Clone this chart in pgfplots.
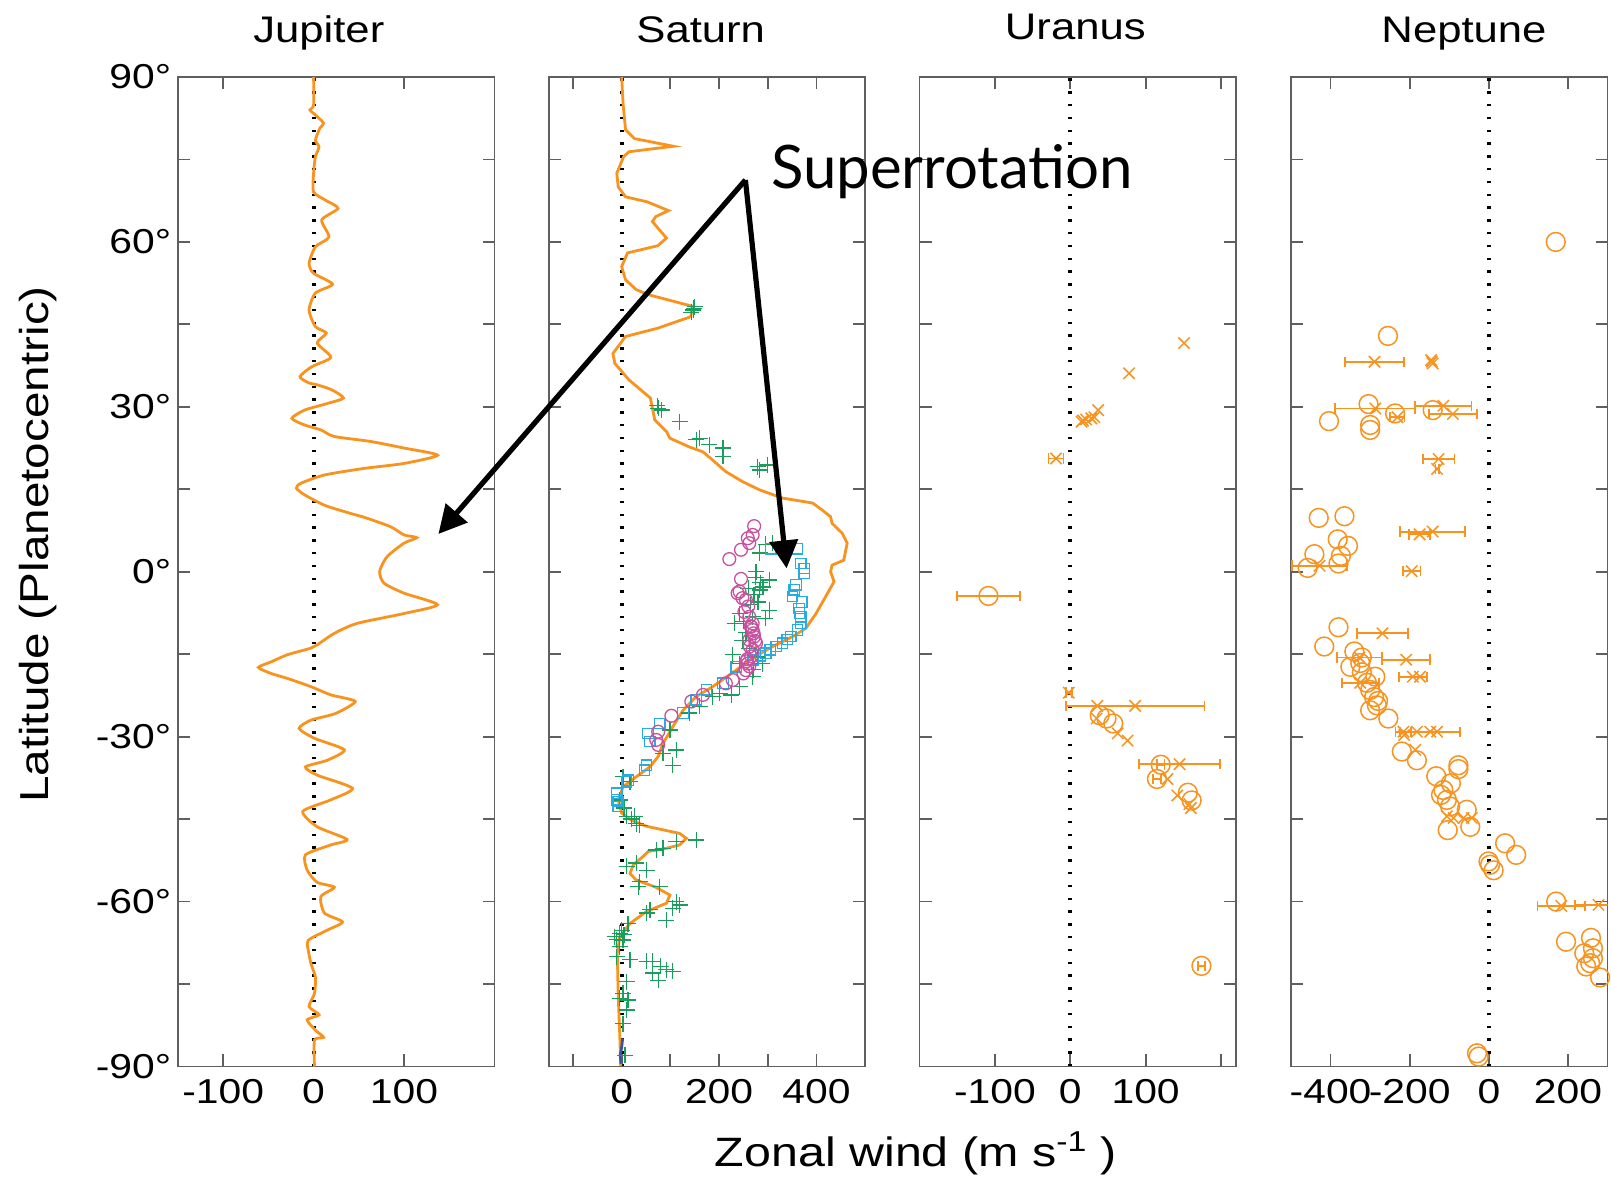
\documentclass[border=0pt]{standalone}
\usepackage{fontspec}
\setmainfont{Liberation Sans}[FakeStretch=1.18]
\newfontfamily\annfont{Lato}
\usepackage{pgfplots}
\pgfplotsset{compat=1.18}
\usetikzlibrary{arrows.meta}
\definecolor{jorange}{RGB}{247,147,30}
\definecolor{sgreen}{RGB}{26,158,92}
\definecolor{scyan}{RGB}{41,171,226}
\definecolor{smag}{RGB}{200,80,158}
\definecolor{sblue}{RGB}{57,83,164}
\definecolor{axgray}{RGB}{95,95,95}
\pgfplotsset{
  planet/.style={
    scale only axis, width=158.3pt, height=494.75pt,
    ymin=-90, ymax=90, ytick={-90,-75,...,90}, yticklabels={},
    tick align=inside, major tick length=6pt,
    axis line style={axgray, line width=0.9pt},
    tick style={axgray, line width=0.9pt},
    tick label style={black, font=\fontsize{17.3}{20}\selectfont},
    xticklabel style={inner sep=0pt, yshift=-6pt},
    anchor=north west, clip=true,
  },
  zeroline/.style={black, line width=2pt, dash pattern=on 1.2pt off 5.2pt, forget plot},
  profile/.style={jorange, line width=1.4pt, no markers},
  urx/.style={only marks, mark=x, mark size=4pt, jorange, mark options={line width=0.75pt}},
  uro/.style={only marks, mark=o, mark size=4.7pt, jorange, mark options={line width=0.75pt}},
  errx/.style={error bars/.cd, x dir=both, x explicit,
     error bar style={jorange, line width=0.9pt},
     error mark options={jorange, line width=0.9pt, mark size=2.6pt, rotate=90}},
}
\begin{document}
\begin{tikzpicture}
\useasboundingbox (0,0) rectangle (805.5pt,590pt);

% ---------------- Jupiter ----------------
\begin{axis}[planet, at={(88.95pt,551.5pt)}, xmin=-150, xmax=200,
  xtick={-100,0,100}, xticklabels={-100,0,100},
  yticklabels={-90°,,-60°,,-30°,,0°,,30°,,60°,,90°},
  yticklabel style={inner sep=0pt, xshift=-3.2pt}]
\addplot[zeroline] coordinates {(0,-90) (0,90)};
\addplot[profile, smooth, tension=0.4] coordinates {
(0,90)(0,84.9)(-4,84)(2,83.1)(11,81.6)(7,80.7)(2,78.5)(6,77.3)(2,75.5)(0,72.5)(0,69.1)
(13,67.6)(27,66.1)(9,64.0)(17,60.9)(2,59.1)(-5,56.1)(0,54.3)(21,52.3)(2,50.7)(-5,47.6)
(2,44.6)(14,43.4)(4,41.6)(19,39.0)(-2,37.3)(-15,35.5)(-6,34.4)(4,34.0)(20,33.1)(33,31.6)
(15,30.6)(-10,29.4)(-24,27.9)(-10,26.7)(8,25.8)(23,24.6)(63,23.7)(100,22.5)(137,21.2)
(100,19.7)(56,18.8)(12,17.6)(-14,16.1)(-19,15.2)(-10,14.0)(12,12.1)(41,10.6)(56,9.9)
(85,8.2)(100,6.7)(114,6.2)(100,5.2)(81,2.7)(73,0.0)(78,-2.1)(100,-3.9)(137,-6.0)
(100,-7.6)(48,-9.4)(23,-11.2)(4,-13.3)(-3,-13.9)(-29,-15.1)(-47,-16.4)(-61,-17.4)
(-47,-18.5)(-29,-19.4)(-3,-20.9)(19,-22.4)(46,-23.6)(24,-25.8)(-3,-27.0)(-16,-28.5)
(1,-30.3)(34,-32.4)(15,-34.3)(-9,-35.5)(4,-37.0)(43,-39.4)(19,-41.5)(-12,-43.6)
(4,-46.4)(37,-48.7)(19,-49.7)(-9,-51.5)(-7,-54.3)(4,-56.5)(23,-57.4)(8,-59.1)
(12,-62.1)(32,-63.7)(15,-65.2)(-3,-66.7)(-7,-67.6)(-3,-71.2)(2,-73.7)(1,-76.7)
(-5,-79.1)(6,-80.6)(-7,-81.5)(2,-83.4)(11,-84.7)(1,-85.2)(1,-90)};
\end{axis}

% ---------------- Saturn ----------------
\begin{axis}[planet, at={(274.3pt,551.5pt)}, xmin=-150, xmax=500,
  xtick={-100,0,100,200,300,400}, xticklabels={,0,,200,,400}]
\addplot[zeroline] coordinates {(0,-90) (0,90)};
\addplot[profile] coordinates {
(0,90)(3,85)(8,80.4)(26,78.8)(106,77.4)(15,76.4)(4,75.5)(-10,72.5)(-7,70)(8,68.2)
(52,67.3)(96,65.7)(70,64.6)(63,63.7)(92,60.7)(74,59.3)(12,58)(0,55.5)(8,53.1)
(30,51.3)(59,50.3)(145,48.3)(142,46.4)(74,44.3)(8,42.8)(-18,39.7)(-14,37.9)(15,34.9)
(59,31.6)(68,27.6)(92,25.5)(99,24.3)(139,22.7)(167,21.8)(187,20.3)(214,18.2)
(248,16.4)(283,14.9)(330,13.4)(392,12.5)(412,11.2)(429,10.0)(432,8.8)(453,7.0)
(463,5.2)(456,2.1)(432,1.2)(429,0.0)(436,-1.8)(419,-4.5)(399,-7.6)(378,-10.3)
(351,-11.8)(310,-13.6)(269,-15.7)(235,-17.9)(187,-20.9)(153,-22.7)(126,-25.2)
(105,-28.2)(85,-31.2)(75,-33.6)(58,-35.5)(30,-37.3)(3,-39.1)(-7,-41.5)(0,-43.9)
(20,-45.2)(51,-46.3)(119,-47.6)(133,-48.5)(119,-49.7)(92,-50.3)(54,-50.9)(44,-51.8)
(24,-53.3)(17,-54.9)(30,-56.1)(68,-57.3)(99,-58.8)(92,-60.3)(51,-61.8)(17,-64.0)
(-4,-66.4)(-9,-69.4)(-7,-77.3)(-4,-84.0)(-2,-89.9)};
\addplot[only marks, mark=+, mark size=4pt, sgreen, mark options={line width=0.65pt}] coordinates {
(147,47.6)(150,48.2)(143,47.2)(148,47.9)
(73,30.2)(75,29.7)(82,29.4)(119,27.3)(160,24.3)(153,24.0)(180,23.1)(208,22.5)(208,21.0)
(279,19.1)(283,18.5)(300,19.4)
(310,5.2)(296,5.0)(283,3.4)(276,0.0)(303,-1.5)(283,-3.3)(272,-4.2)(290,-2.8)(303,-7.0)
(242,-7.6)(232,-9.4)(269,-8.2)(280,-5.5)(265,-6.0)(255,-11.0)(248,-12.5)(275,-1.0)(285,-2.0)
(260,-3.0)(295,-8.5)(250,-9.0)(262,-14.0)(270,-17.8)(280,-15.5)
(228,-15.1)(242,-16.7)(289,-16.7)(269,-19.1)(242,-20.9)(225,-22.4)(201,-22.1)(187,-22.7)
(160,-24.5)(139,-25.7)(99,-28.8)(85,-33.0)(112,-32.4)(105,-35.2)(3,-37.3)(17,-38.2)
(-4,-41.5)(27,-44.5)(10,-44.5)(30,-45.8)(37,-46.1)(20,-45.0)(5,-43.0)
(153,-48.8)(112,-49.1)(85,-50.3)(71,-50.6)(30,-53.0)(10,-53.6)(51,-54.3)(37,-56.4)
(34,-57.3)(78,-57.3)(112,-60.0)(119,-60.6)(105,-61.2)(58,-61.5)(51,-62.1)(92,-63.4)
(13,-64.0)(-4,-65.8)(-14,-66.4)(3,-67.0)(-4,-68.2)(-10,-66.9)(0,-65.2)(5,-66.0)
(17,-70.6)(-10,-70.0)(64,-70.9)(51,-70.9)(92,-72.4)(64,-73.0)(75,-74.3)(105,-72.7)(80,-71.8)
(10,-74.6)(3,-76.7)(-4,-77.6)(13,-77.9)(10,-79.7)(3,-82.2)(7,-88.0)};
\addplot[only marks, mark=square, mark size=2.6pt, scyan, mark options={line width=0.65pt}] coordinates {
(306,4.2)(361,4.2)(368,1.5)(375,0.6)(375,-0.3)(358,-2.4)(354,-3.3)(351,-4.5)(364,-6.7)
(368,-8.2)(368,-9.4)(361,-10.6)(347,-11.8)(330,-13.0)(317,-13.6)(296,-14.8)(270,-16.0)
(235,-17.3)(208,-20.3)(174,-21.5)(153,-23.3)(126,-25.7)(78,-27.6)(54,-29.4)(58,-30.9)
(51,-35.2)(47,-36.1)(13,-37.9)(-10,-40.3)(-10,-41.5)(-7,-42.7)(-7,-41.8)(10,-38.2)
(370,-5.5)(365,-7.5)(340,-12.3)(305,-14.2)(285,-15.3)};
\addplot[only marks, mark=o, mark size=3.2pt, smag, mark options={line width=0.65pt}] coordinates {
(272,8.3)(269,6.7)(259,6.1)(262,5.2)(245,4.0)(221,2.3)(245,-1.3)(242,-3.6)(238,-3.9)
(248,-4.8)(255,-5.1)(252,-7.3)(262,-8.2)(269,-9.4)(269,-10.6)(272,-11.8)(276,-13.0)
(269,-14.2)(266,-15.4)(259,-16.7)(255,-17.9)(262,-12.4)(265,-9.9)(258,-15.9)
(260,-6.3)(266,-10.0)(271,-11.2)(274,-12.6)(263,-13.6)(256,-16.3)(262,-17.2)(250,-18.5)
(228,-19.7)(214,-20.3)(167,-22.4)(143,-23.6)(102,-26.2)(75,-29.1)(71,-30.6)(75,-31.5)};
\addplot[sblue, line width=1.4pt, no markers] coordinates {(2,-84.9)(0,-86.5)(-3,-88)(-1,-89.5)};
\end{axis}

% ---------------- Uranus ----------------
\begin{axis}[planet, at={(459.75pt,551.5pt)}, xmin=-200, xmax=220,
  xtick={-100,0,100,200}, xticklabels={-100,0,100,}]
\addplot[zeroline] coordinates {(0,-90) (0,90)};
\addplot[urx] coordinates {
(151,41.6)(78,36.1)(37,29.4)(17,27.5)(21,27.7)(28,27.9)(32,28.1)(15,27.3)
(36,-24.4)(35,-26.7)(63,-29.4)(76,-30.7)(129,-37.7)(142,-40.7)(160,-43.0)(158,-42.3)};
\addplot[urx, errx] coordinates {
(-19,20.6) +- (10,0) (-2,-22.0) +- (4,0) (86,-24.4) +- (92,0) (145,-35.0) +- (54,0)};
\addplot[uro] coordinates {(39,-26.1)(48,-26.7)(57,-27.6)(156,-40.2)(161,-41.6)};
\addplot[uro, errx] coordinates {
(-108.6,-4.4) +- (42,0) (120,-35.1) +- (5,0) (115,-37.7) +- (5,0) (174,-71.7) +- (5,0)};
\end{axis}

% ---------------- Neptune ----------------
\begin{axis}[planet, at={(645.5pt,551.5pt)}, xmin=-500, xmax=300,
  xtick={-400,-200,0,200}, xticklabels={-400,-200,0,200}]
\addplot[zeroline] coordinates {(0,-90) (0,90)};
\addplot[uro] coordinates {
(169,60.0)(-255,42.9)(-304,30.5)(-237,28.8)(-142,29.4)(-404,27.4)(-300,26.7)(-300,25.8)
(-430,9.8)(-365,10.1)(-382,5.9)(-356,4.7)(-441,3.2)(-374,2.9)(-380,1.5)(-458,0.7)
(-380,-10.1)(-416,-13.6)(-340,-14.5)(-321,-15.6)(-325,-16.6)(-350,-17.3)(-321,-18.3)
(-287,-19.1)(-308,-20.2)(-300,-21.5)(-290,-22.8)(-280,-23.5)
(-300,-25.2)(-283,-24.3)(-254,-26.7)(-220,-32.7)(-182,-34.3)(-77,-35.2)(-77,-35.9)
(-133,-37.2)(-96,-38.5)(-115,-39.7)(-121,-40.6)(-106,-41.5)(-98,-42.7)(-56,-43.3)
(-104,-47.0)(-47,-46.4)(41,-49.4)(69,-51.5)(-1,-52.7)(3,-53.3)(12,-54.3)
(170,-60.0)(195,-67.3)(258,-66.6)(241,-69.4)(263,-68.5)(263,-70.3)(246,-71.8)
(256,-71.2)(281,-73.8)(-30,-87.6)(-26,-88.2)};
\addplot[urx] coordinates {
(-144,38.2)(-146,38.5)(-142,37.9)(-182,-29.1)(-131,-29.1)(-214,-29.7)(-186,-32.4)
(-106,-44.5)(-89,-44.8)(-64,-44.8)(-43,-44.8)(-174,-19.1)};
\addplot[urx, errx] coordinates {
(-289,38.2) +- (74,0) (-287,29.7) +- (101,0) (-115,30.2) +- (71,0) (-91,28.7) +- (60,0)
(-127,20.5) +- (40,0) (-131,18.7) +- (4,0) (-231,28.1) +- (18,0) (-428,1.1) +- (69,0)
(-142,7.3) +- (82,0) (-175,6.8) +- (26,0) (-195,0.1) +- (22,0) (-269,-11.2) +- (65,0)
(-327,-15.6) +- (56,0) (-209,-16.0) +- (61,0) (-192,-19.1) +- (36,0) (-325,-20.2) +- (47,0)
(-148,-29.1) +- (76,0) (-216,-29.1) +- (20,0) (183,-60.8) +- (60,0) (277,-60.6) +- (60,0)};
\end{axis}

% ---------------- titles and labels ----------------
\node[anchor=base, font=\fontsize{18.5}{20}\selectfont] at (159.4pt,568.65pt) {Jupiter};
\node[anchor=base, font=\fontsize{18.5}{20}\selectfont] at (350.35pt,568.65pt) {Saturn};
\node[anchor=base, font=\fontsize{18.5}{20}\selectfont] at (537.65pt,570.35pt) {Uranus};
\node[anchor=base, font=\fontsize{18.5}{20}\selectfont] at (732pt,568.65pt) {Neptune};
\node[rotate=90, font=\fontsize{20.2}{22}\selectfont] at (19pt,317.75pt) {Latitude (Planetocentric)};
\node[anchor=base, font=\fontsize{20.5}{22}\selectfont] at (458pt,6.65pt) {Zonal wind (m s\textsuperscript{-1} )};

% annotation
\node[anchor=base west, inner sep=0pt, font=\annfont\fontsize{30}{32}\selectfont] at (385.3pt,495.8pt) {Superrotation};
\draw[line width=2.6pt, -{Triangle[length=14pt,width=14pt]}] (372.7pt,500pt) -- (219.2pt,323pt);
\draw[line width=2.6pt, -{Triangle[length=14pt,width=14pt]}] (372.7pt,500pt) -- (393.3pt,305.8pt);
\end{tikzpicture}
\end{document}
